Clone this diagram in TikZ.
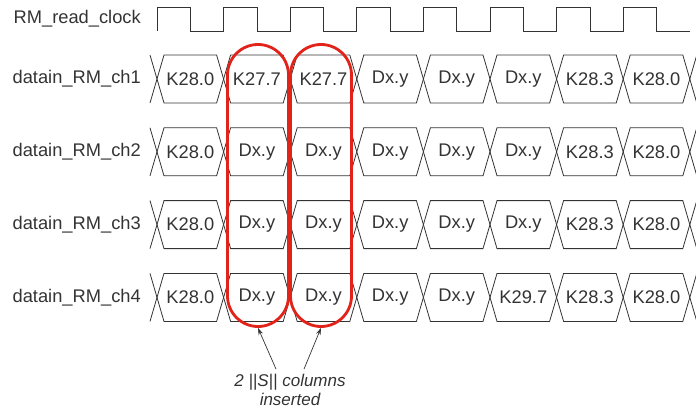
\documentclass[tikz,border=0pt]{standalone}
\usepackage{fontspec}
\setmainfont{Liberation Sans}
\usepackage{tikz}
\usetikzlibrary{arrows.meta,calc,positioning}
\definecolor{wavegray}{HTML}{333333}
\definecolor{idlered}{HTML}{E2231A}
\tikzset{
	timing diagram/.style={
		x=1pt, y=-1pt,
		line join=miter,
		wave/.style={draw=wavegray, line width=.8pt},
		ar/.style={-{Stealth[length=7pt,width=4.5pt]}, draw=wavegray, line width=.7pt}
		},
	tcell/.store in=\tcell,
	tcell=66.6,
	tslant/.store in=\tslant,
	tslant=7,
	thalf/.store in=\thalf,
	thalf=24,
	sig name/.style={anchor=east, inner sep=0pt, text=wavegray,
		font=\fontsize{18.3}{20}\selectfont},
	cell text/.style={inner sep=0pt, text=wavegray,
		font=\fontsize{18.3}{20}\selectfont},
	idle col/.style={draw=idlered, line width=2.8pt, rounded corners=30.5pt,
		minimum width=61pt, minimum height=282pt, inner sep=0pt},
	note/.style={align=center, inner sep=0pt, text=wavegray,
		font=\itshape\fontsize{17}{19}\selectfont}
}

\begin{document}
\begin{tikzpicture}[timing diagram]
	\useasboundingbox (0,0) rectangle (696,409);
	% clock
	\node[sig name] (clk) at (141,19) {RM\_read\_clock};
	\draw[wave] (157,31) \foreach \k in {0,...,7} {
		-- ++(0,-24) -- ++(\tcell/2,0) -- ++(0,24) -- ++(\tcell/2,0)};
	% data lanes
	\foreach \ch/\cells in {
			1/{K28.0,K27.7,K27.7,Dx.y,Dx.y,Dx.y,K28.3,K28.0},
			2/{K28.0,Dx.y,Dx.y,Dx.y,Dx.y,Dx.y,K28.3,K28.0},
			3/{K28.0,Dx.y,Dx.y,Dx.y,Dx.y,Dx.y,K28.3,K28.0},
			4/{K28.0,Dx.y,Dx.y,Dx.y,Dx.y,K29.7,K28.3,K28.0}} {
		\pgfmathsetmacro{\yc}{79+72.8*(\ch-1)}
		\node[sig name] (ch\ch) at (141,\yc) {datain\_RM\_ch\ch};
		\foreach \txt [count=\k from 0] in \cells {
			\pgfmathsetmacro{\xl}{157+\tcell*\k}
			\draw[wave] (\xl,\yc) -- ++(\tslant,-\thalf) -- ++(\tcell-2*\tslant,0)
				-- ++(\tslant,\thalf) -- ++(-\tslant,\thalf) -- ++(-\tcell+2*\tslant,0) -- cycle;
			\node[cell text] (d\ch-\k) at (\xl+\tcell/2,\yc) {\txt};
		}
		\draw[wave] (157,\yc) -- ++(-\tslant,-\thalf) (157,\yc) -- ++(-\tslant,\thalf); %open start
		\draw[wave] (157+8*\tcell,\yc) -- ++(\tslant,-\thalf) (157+8*\tcell,\yc) -- ++(\tslant,\thalf); %open end
	}
	% inserted columns
	\node[idle col] (ins1) at (258,185.5) {};
	\node[idle col] (ins2) at (321,185.5) {};
	\node[note] (note) at (290,390) {2 ||S|| columns\\inserted};
	\coordinate (tail1) at ($(note.north)+(-14,-5)$);
	\coordinate (tail2) at ($(note.north)+(14,-5)$);
	\draw[ar] (tail1) -- (ins1.south);
	\draw[ar] (tail2) -- (ins2.south);
\end{tikzpicture}
\end{document}
